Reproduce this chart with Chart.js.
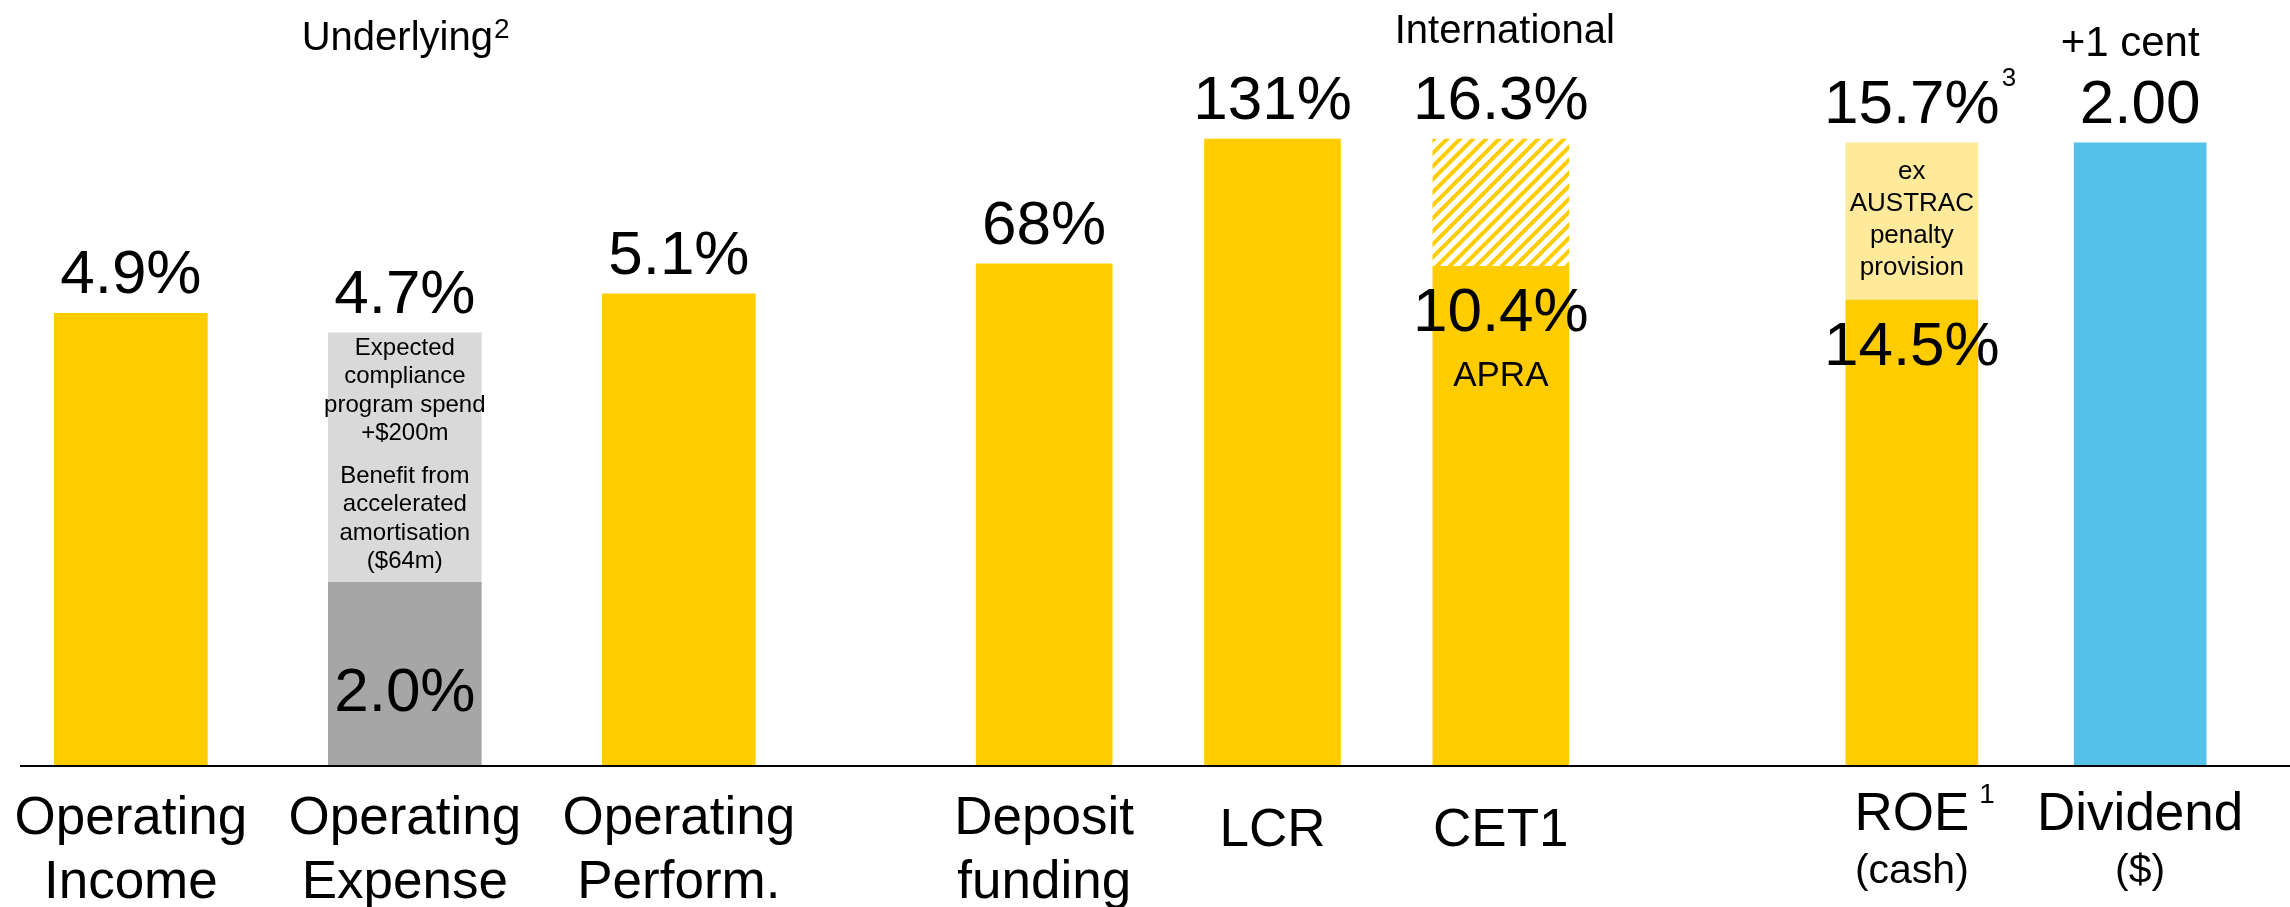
<!DOCTYPE html>
<html lang="en">
<head>
<meta charset="UTF-8">
<title>Key metrics</title>
<script src="https://cdn.jsdelivr.net/npm/chart.js"></script>
<style>
  html, body { margin: 0; padding: 0; background: #fff; }
  #wrap { width: 2290px; height: 907px; position: relative; }
</style>
</head>
<body>
<div id="wrap"><canvas id="metricsChart"></canvas></div>
<script>
// --- data (bar heights are in display units, LCR bar = 100) ---
const categories = ['Operating Income', 'Operating Expense', 'Operating Perform.', 'Deposit funding', 'LCR', 'CET1', 'ROE (cash)', 'Dividend ($)'];
const tickMain = ['Operating', 'Operating', 'Operating', 'Deposit', 'LCR', 'CET1', 'ROE', 'Dividend'];
const tickSub = ['Income', 'Expense', 'Perform.', 'funding', '', '', '(cash)', '($)'];
const valueLabels = ['4.9%', '4.7%', '5.1%', '68%', '131%', '16.3%', '15.7%', '2.00'];
const innerLabels = ['', '2.0%', '', '', '', '10.4%', '14.5%', ''];
const baseHeights = [72.2, 29.3, 75.3, 80.1, 100, 79.7, 74.3, 99.4];
const topHeights = [0, 39.8, 0, 0, 0, 20.3, 25.1, 0];
const groupTitles = ['Underlying', 'International', '+1 cent'];
const expenseNote = [['Expected', 'compliance', 'program spend', '+$200m'], ['Benefit from', 'accelerated', 'amortisation', '($64m)']];
const roeNote = ['ex', 'AUSTRAC', 'penalty', 'provision'];
const cet1Note = 'APRA';

// --- layout ---
const group = [0, 0, 0, 1, 1, 1, 2, 2];
const slot = [0, 6, 12, 20, 25, 30, 39, 44];   // position on a 45-slot category axis
const slotCount = 45;
const barWidth = [153, 136, 132];

const YELLOW = '#FFCC00', LIGHT_YELLOW = '#FFE99A', DARK_GREY = '#A6A6A6', LIGHT_GREY = '#D9D9D9', BLUE = '#55C0E8';
const FONT = '"Liberation Sans", Arial, sans-serif';

function hatch() {
    const p = 13;
    const c = document.createElement('canvas');
    c.width = p; c.height = p;
    const g = c.getContext('2d');
    g.fillStyle = '#fff';
    g.fillRect(0, 0, p, p);
    g.strokeStyle = YELLOW;
    g.lineWidth = 4;
    g.beginPath();
    g.moveTo(-p, 2 * p); g.lineTo(2 * p, -p);
    g.moveTo(-2 * p, 2 * p); g.lineTo(p, -p);
    g.moveTo(0, 2 * p); g.lineTo(3 * p, -p);
    g.stroke();
    return g.createPattern(c, 'repeat');
}

const baseColors = [YELLOW, DARK_GREY, YELLOW, YELLOW, YELLOW, YELLOW, YELLOW, BLUE];
const topColors = [null, LIGHT_GREY, null, null, null, hatch(), LIGHT_YELLOW, null];

const labels = Array.from({ length: slotCount }, () => '');
categories.forEach((c, i) => { labels[slot[i]] = c; });

function slotData(values, g) {
    const arr = Array.from({ length: slotCount }, () => null);
    values.forEach((v, i) => { if (group[i] === g && v) arr[slot[i]] = v; });
    return arr;
}
function slotColors(colors) {
    const arr = Array.from({ length: slotCount }, () => 'rgba(0,0,0,0)');
    colors.forEach((c, i) => { if (c) arr[slot[i]] = c; });
    return arr;
}

const datasets = [];
[0, 1, 2].forEach(g => {
    datasets.push({ data: slotData(baseHeights, g), backgroundColor: slotColors(baseColors), barThickness: barWidth[g], borderWidth: 0, clip: false });
    datasets.push({ data: slotData(topHeights, g), backgroundColor: slotColors(topColors), barThickness: barWidth[g], borderWidth: 0, clip: false });
});

function text(ctx, str, x, y, size, align) {
    ctx.font = size + 'px ' + FONT;
    ctx.textAlign = align || 'center';
    ctx.fillText(str, x, y);
    return ctx.measureText(str).width;
}

const annotate = {
    id: 'annotate',
    afterDatasetsDraw(chart) {
        const ctx = chart.ctx;
        const xs = chart.scales.x, ys = chart.scales.y;
        const zero = ys.getPixelForValue(0);
        ctx.save();

        // baseline
        ctx.strokeStyle = '#000';
        ctx.lineWidth = 2;
        ctx.beginPath();
        ctx.moveTo(20, zero);
        ctx.lineTo(chart.width, zero);
        ctx.stroke();

        ctx.fillStyle = '#000';
        ctx.textBaseline = 'alphabetic';
        const cx = i => xs.getPixelForValue(slot[i]);

        categories.forEach((c, i) => {
            const x = cx(i);
            const top = ys.getPixelForValue(baseHeights[i] + topHeights[i]);
            const split = ys.getPixelForValue(baseHeights[i]);

            // value on top
            const w = text(ctx, valueLabels[i], x, top - 20, 62);
            if (i === 6) text(ctx, '3', x + w / 2 + 2, top - 57, 26, 'left');

            // value inside the lower part
            if (innerLabels[i]) {
                const off = i === 1 ? 129 : 65;
                text(ctx, innerLabels[i], x, split + off, 62);
            }

            // category label
            if (tickSub[i]) {
                const small = group[i] === 2;
                const mw = text(ctx, tickMain[i], x, small ? 830 : 834, 53);
                text(ctx, tickSub[i], x, small ? 883 : 898, small ? 41 : 53);
                if (i === 6) text(ctx, '1', x + mw / 2 + 10, 803, 28, 'left');
            } else {
                text(ctx, tickMain[i], x, 846, 53);
            }
        });

        // notes inside bars
        const eTop = ys.getPixelForValue(baseHeights[1] + topHeights[1]);
        expenseNote.forEach((block, b) => {
            block.forEach((line, k) => text(ctx, line, cx(1), eTop + 22 + b * 128 + k * 28.5, 24));
        });
        const rTop = ys.getPixelForValue(baseHeights[6] + topHeights[6]);
        roeNote.forEach((line, k) => text(ctx, line, cx(6), rTop + 36 + k * 32, 26));
        text(ctx, cet1Note, cx(5), ys.getPixelForValue(baseHeights[5]) + 120, 35);

        // group titles
        const uw = text(ctx, groupTitles[0], 0, -100, 40);
        const ux = cx(1) - (uw + 15) / 2;
        text(ctx, groupTitles[0], ux, 50, 40, 'left');
        text(ctx, '2', ux + uw + 1, 38, 28, 'left');
        text(ctx, groupTitles[1], cx(5) + 4, 43, 40);
        text(ctx, groupTitles[2], cx(7) - 10, 56, 42);

        ctx.restore();
    }
};

new Chart(document.getElementById('metricsChart'), {
    type: 'bar',
    data: { labels: labels, datasets: datasets },
    options: {
        responsive: true,
        maintainAspectRatio: false,
        animation: false,
        devicePixelRatio: 1,
        layout: { padding: { top: 139, bottom: 141, left: 108, right: 127 } },
        scales: {
            x: { stacked: true, display: false },
            y: { stacked: true, display: false, min: 0, max: 100 }
        },
        plugins: { legend: { display: false }, tooltip: { enabled: false } }
    },
    plugins: [annotate]
});
</script>
</body>
</html>
